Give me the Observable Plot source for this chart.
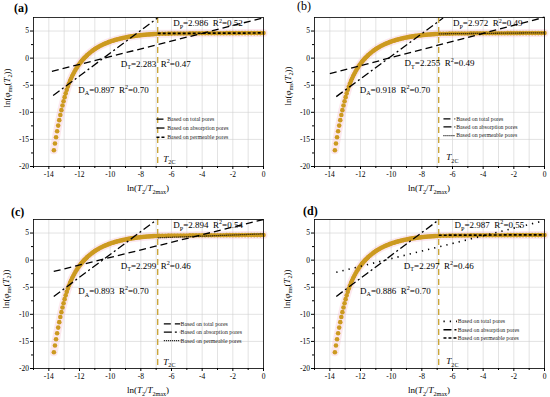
<!DOCTYPE html>
<html><head><meta charset="utf-8">
<script src="https://cdn.jsdelivr.net/npm/d3@7"></script>
<script src="https://cdn.jsdelivr.net/npm/@observablehq/plot@0.6"></script>
<style>
body{margin:0;background:#fff;}
#wrap{position:relative;width:550px;height:397px;overflow:hidden;background:#fff;font-family:"Liberation Serif","Times New Roman",serif;}
#wrap svg{position:absolute;overflow:visible;}
</style></head><body><div id="wrap"></div>
<script>
// ---- data ----
const curveX = [-13.67,-13.60,-13.53,-13.46,-13.39,-13.32,-13.25,-13.18,-13.11,-13.04,-12.97,-12.90,-12.83,-12.76,-12.69,-12.62,-12.55,-12.48,-12.41,-12.34,-12.27,-12.20,-12.13,-12.06,-11.99,-11.92,-11.85,-11.78,-11.71,-11.64,-11.57,-11.50,-11.4,-11.3,-11.2,-11.1,-11.0,-10.9,-10.8,-10.7,-10.6,-10.5,-10.4,-10.3,-10.2,-10.1,-10.0,-9.9,-9.8,-9.7,-9.6,-9.5,-9.4,-9.3,-9.2,-9.1,-9.0,-8.9,-8.8,-8.7,-8.6,-8.5,-8.4,-8.3,-8.2,-8.1,-8.0,-7.9,-7.8,-7.7,-7.6,-7.5,-7.4,-7.3,-7.2,-7.1,-7.0,-6.8,-6.6,-6.4,-6.2,-6.0,-5.8,-5.6,-5.4,-5.2,-5.0,-4.8,-4.6,-4.4,-4.2,-4.0,-3.8,-3.6,-3.4,-3.2,-3.0,-2.8,-2.6,-2.4,-2.2,-2.0,-1.8,-1.6,-1.4,-1.2,-1.0,-0.8,-0.6,-0.4,-0.2,0];
const curveY = [-17.0,-15.75,-14.6,-13.5,-12.45,-11.45,-10.5,-9.6,-8.75,-7.95,-7.2,-6.5,-5.85,-5.25,-4.7,-4.2,-3.75,-3.32,-2.92,-2.55,-2.2,-1.87,-1.56,-1.27,-1.0,-0.74,-0.5,-0.27,-0.05,0.16,0.36,0.55,0.8,1.04,1.26,1.47,1.67,1.85,2.02,2.18,2.33,2.47,2.6,2.72,2.84,2.95,3.05,3.15,3.24,3.33,3.41,3.49,3.56,3.63,3.7,3.76,3.82,3.87,3.92,3.97,4.02,4.06,4.1,4.14,4.18,4.21,4.24,4.27,4.3,4.33,4.35,4.37,4.39,4.41,4.43,4.45,4.46,4.48,4.5,4.51,4.52,4.53,4.54,4.55,4.55,4.56,4.56,4.57,4.57,4.58,4.58,4.58,4.59,4.59,4.59,4.6,4.6,4.6,4.6,4.61,4.61,4.61,4.61,4.61,4.62,4.62,4.62,4.62,4.62,4.62,4.62,4.62];
const panelLabels = ["(a)", "(b)", "(c)", "(d)"];
const DT = [2.283, 2.255, 2.299, 2.297];
const R2T = ["0.47", "0.49", "0.46", "0.46"];
const DA = [0.897, 0.918, 0.893, 0.886];
const R2A = ["0.70", "0.70", "0.70", "0.70"];
const DP = [2.986, 2.972, 2.894, 2.987];
const R2P = ["0.52", "0.49", "0.54", "0.55"];
const T2C = [-6.9, -6.9, -6.9, -6.9];
const interceptT = [7.45, 7.55, 7.5, 7.3];
const interceptA = [21.95, 21.17, 22.12, 22.01];
const interceptP = [4.65, 4.68, 4.85, 4.68];
const startT = [-13.8, -14.0, -13.68, -13.58];
const startA = [-13.72, -13.58, -13.68, -13.58];
const legendNames = ["Based on total pores", "Based on absorption pores", "Based on permeable pores"];
const xTicks = [-14, -12, -10, -8, -6, -4, -2, 0];
const yTicks = [-20, -15, -10, -5, 0, 5];

// ---- layout & styles ----
const layout = [
  {left:0, top:0, width:275, height:197, ml:33, mr:12, mt:17, mb:31, lx:14, ly:11.5, bold:true, ylx:8, yly:88, xly:191,
   ann:{P:[-5.86,6.35], T:[-9.28,-1.1], A:[-12.05,-5.87], C:[-6.5,-18.6]}, leg:{x0:-6.98, x1:-6.35, tx:-6.28, ys:[-11.26,-12.9,-14.6]}},
  {left:275, top:0, width:275, height:197, ml:39, mr:6, mt:17, mb:31, lx:22, ly:10, bold:false, ylx:14, yly:86, xly:191,
   ann:{P:[-5.94,6.35], T:[-9.09,-1.0], A:[-12.02,-5.9], C:[-6.37,-18.3]}, leg:{x0:-6.59, x1:-5.82, tx:-5.76, ys:[-11.2,-12.7,-14.3]}},
  {left:0, top:197, width:275, height:200, ml:33, mr:12, mt:22, mb:29, lx:11, ly:19, bold:true, ylx:7, yly:92, xly:196,
   ann:{P:[-5.85,6.4], T:[-9.28,-1.1], A:[-12.05,-5.8], C:[-6.5,-18.8]}, leg:{x0:-6.5, x1:-5.43, tx:-5.41, ys:[-11.75,-13.27,-14.86]}},
  {left:275, top:197, width:275, height:200, ml:39, mr:6, mt:22, mb:29, lx:28, ly:18, bold:true, ylx:13, yly:92, xly:196,
   ann:{P:[-5.83,6.4], T:[-9.14,-1.1], A:[-12.0,-5.7], C:[-6.37,-18.7]}, leg:{x0:-6.59, x1:-5.71, tx:-5.65, ys:[-11.3,-12.85,-14.37]}}
];
const styles = [
  {T:{dash:"7,4", w:1.3}, A:{dash:"8,3,2,3", w:1.3}, P:{dash:"3,2", w:1.7}},
  {T:{dash:"7,4", w:1.3}, A:{dash:"8,3,2,3", w:1.3}, P:{dash:"1,1", w:1.3}},
  {T:{dash:"7,4", w:1.3}, A:{dash:"8,3,2,3", w:1.3}, P:{dash:"1,1", w:1.3}},
  {T:{dash:"1.3,5", w:1.6}, A:{dash:"8,3,2,3", w:1.3}, P:{dash:"3,2", w:1.7}}
];
const DOT = "#cc9a20", HALO = "#f6b3c8", T2COL = "#c9a232", FONT = "Liberation Serif, Times New Roman, serif";
const Y_TOP = 7.5;

const curve = curveX.map((x, i) => ({x, y: curveY[i]}));
const wrap = document.getElementById("wrap");

function rich(sel, parts, fs) {
  let shift = 0;
  for (const p of parts) {
    const target = p.sub ? fs * 0.3 : p.sup ? -fs * 0.42 : 0;
    const ts = sel.append("tspan").text(p.t).attr("dy", target - shift)
      .attr("font-size", (p.sub || p.sup) ? fs * 0.68 : fs);
    if (p.it) ts.attr("font-style", "italic");
    shift = target;
  }
}

layout.forEach((L, i) => {
  const st = styles[i];
  const sT = 3 - DT[i], sA = 3 - DA[i], sP = 3 - DP[i];
  const endA = (Y_TOP - 0.1 - interceptA[i]) / sA;
  const fits = [
    {k:"T", x1:startT[i], y1:interceptT[i] + sT*startT[i], x2:0, y2:interceptT[i]},
    {k:"A", x1:startA[i], y1:interceptA[i] + sA*startA[i], x2:endA, y2:interceptA[i] + sA*endA},
    {k:"P", x1:T2C[i], y1:interceptP[i] + sP*T2C[i], x2:0, y2:interceptP[i]}
  ];
  const legRows = ["T","A","P"].map((k, j) => ({k, name: legendNames[j], x1:L.leg.x0, x2:L.leg.x1, tx:L.leg.tx, y:L.leg.ys[j]}));
  const fitMarks = [], legMarks = [];
  for (const k of ["T","A","P"]) {
    fitMarks.push(Plot.link(fits.filter(d => d.k === k), {x1:"x1", y1:"y1", x2:"x2", y2:"y2", stroke:"black", strokeWidth:st[k].w, strokeDasharray:st[k].dash}));
    legMarks.push(Plot.link(legRows.filter(d => d.k === k), {x1:"x1", y1:"y", x2:"x2", y2:"y", stroke:"black", strokeWidth:st[k].w, strokeDasharray:st[k].dash}));
  }
  const svg = Plot.plot({
    width: L.width, height: L.height,
    marginLeft: L.ml, marginRight: L.mr, marginTop: L.mt, marginBottom: L.mb,
    style: {fontFamily: FONT, fontSize: "7.5px", background: "transparent", color: "black"},
    x: {domain: [-15, 0]},
    y: {domain: [-20, Y_TOP]},
    marks: [
      Plot.gridX(d3.range(-15, 1, 1), {stroke: "#d0d0d0", strokeOpacity: 1, strokeWidth: 0.6}),
      Plot.gridY(yTicks, {stroke: "#d0d0d0", strokeOpacity: 1, strokeWidth: 0.6}),
      Plot.line(curve, {x: "x", y: "y", stroke: HALO, strokeWidth: 8, strokeOpacity: 0.3}),
      Plot.ruleX([T2C[i]], {stroke: T2COL, strokeWidth: 1.3, strokeDasharray: "6,4"}),
      Plot.dot(curve, {x: "x", y: "y", r: 2.3, fill: DOT, stroke: "none"}),
      ...fitMarks,
      ...legMarks,
      Plot.text(legRows, {x: "tx", y: "y", text: "name", textAnchor: "start", fontSize: 5.8, fill: "#222"}),
      Plot.frame({stroke: "black", strokeWidth: 0.8}),
      Plot.axisX(xTicks, {tickSize: 3, tickPadding: 2, tickFormat: d => String(d), label: null}),
      Plot.axisX([-15, -13, -11, -9, -7, -5, -3, -1], {tickSize: 2, tickFormat: () => "", label: null}),
      Plot.axisY(yTicks, {tickSize: 3, tickPadding: 1.5, tickFormat: d => String(d), label: null}),
      Plot.axisY([-17.5, -12.5, -7.5, -2.5, 2.5], {tickSize: 2, tickFormat: () => "", label: null})
    ]
  });
  svg.style.left = L.left + "px";
  svg.style.top = L.top + "px";
  wrap.appendChild(svg);

  const sx = v => svg.scale("x").apply(v), sy = v => svg.scale("y").apply(v);
  const g = d3.select(svg).append("g").attr("font-family", FONT).attr("fill", "black").attr("text-anchor", "start");
  const fs = 9;
  // fit annotations
  const ann = [
    {pos: L.ann.P, sub: "P", D: DP[i], R: R2P[i]},
    {pos: L.ann.T, sub: "T", D: DT[i], R: R2T[i]},
    {pos: L.ann.A, sub: "A", D: DA[i], R: R2A[i]}
  ];
  for (const a of ann) {
    const t = g.append("text").attr("text-anchor", "start").attr("x", sx(a.pos[0])).attr("y", sy(a.pos[1]) + fs * 0.35);
    rich(t, [{t: "D"}, {t: a.sub, sub: true}, {t: "=" + a.D.toFixed(3) + "\u00a0\u00a0R"}, {t: "2", sup: true}, {t: "=" + a.R}], fs);
  }
  // T2C
  const tc = g.append("text").attr("text-anchor", "start").attr("x", sx(L.ann.C[0])).attr("y", sy(L.ann.C[1]) + fs * 0.35);
  rich(tc, [{t: "T", it: true}, {t: "2C", sub: true}], fs);
  // x label
  const xl = g.append("text").attr("x", (L.ml + L.width - L.mr) / 2).attr("y", L.xly).attr("text-anchor", "middle");
  rich(xl, [{t: "ln("}, {t: "T", it: true}, {t: "2", sub: true}, {t: "/"}, {t: "T", it: true}, {t: "2max", sub: true}, {t: ")"}], 9);
  // y label
  const yl = g.append("text").attr("transform", `translate(${L.ylx},${L.yly}) rotate(-90)`).attr("text-anchor", "middle").attr("dominant-baseline", "middle");
  rich(yl, [{t: "ln("}, {t: "φ", it: true}, {t: "ms", sub: true}, {t: "("}, {t: "T", it: true}, {t: "2", sub: true}, {t: "))"}], 9);
  // panel label
  g.append("text").attr("x", L.lx).attr("y", L.ly).attr("font-size", 12).attr("font-weight", L.bold ? "bold" : "normal").text(panelLabels[i]);
});
</script></body></html>
